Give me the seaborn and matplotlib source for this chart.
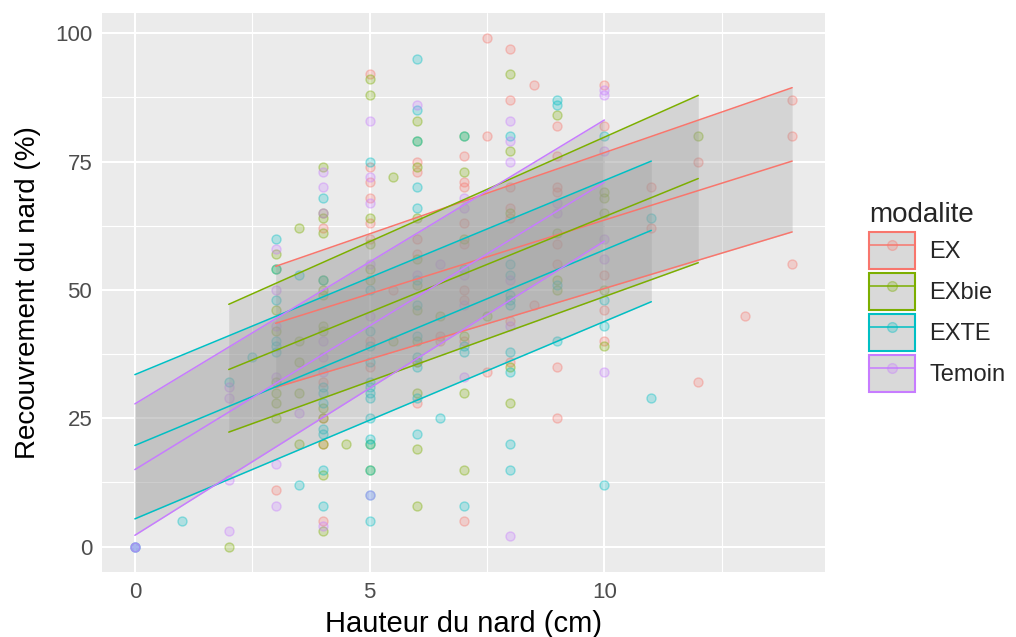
import numpy as np
import pandas as pd
import matplotlib
matplotlib.use("Agg")
import matplotlib.pyplot as plt
import seaborn as sns
from matplotlib.patches import Rectangle
from matplotlib.lines import Line2D
from matplotlib.colors import to_rgba
from matplotlib.ticker import MultipleLocator

# ---------------- data ----------------
groups = ["EX", "EXbie", "EXTE", "Temoin"]
colors = ["#F8766D", "#7CAE00", "#00BFC4", "#C77CFF"]

ex_x = [3, 4, 4, 4, 4, 4, 5, 5, 5, 5, 5, 5, 5, 5, 5.5, 6, 6, 6, 6, 6, 6, 6.5, 6.5,
        7, 7, 7, 7, 7, 7, 7, 7, 7, 7.5, 7.5, 7.5, 8, 8, 8, 8, 8, 8, 8, 8.5, 8.5,
        9, 9, 9, 9, 9, 9, 9, 9, 10, 10, 10, 10, 10, 11, 11, 12, 12, 13, 14, 14, 14]
ex_y = [11, 62, 32, 25, 20, 5, 92, 74, 71, 68, 63, 60, 40, 35, 50, 75, 73, 60, 57, 36, 28, 41, 40,
        76, 71, 70, 63, 59, 50, 48, 40, 5, 99, 80, 34, 97, 87, 70, 66, 64, 44, 36, 90, 47,
        82, 76, 70, 69, 59, 55, 35, 25, 90, 82, 53, 46, 40, 70, 62, 75, 32, 45, 87, 80, 55]

exbie_x = [2, 3, 3, 3, 3, 3, 3, 3, 3, 3.5, 3.5, 3.5, 3.5, 3.5,
           4, 4, 4, 4, 4, 4, 4, 4, 4, 4, 4, 4, 4, 4, 4.5,
           5, 5, 5, 5, 5, 5, 5, 5, 5.5, 5.5,
           6, 6, 6, 6, 6, 6, 6, 6, 6, 6, 6, 6, 6.5,
           7, 7, 7, 7, 7, 7, 7.5, 8, 8, 8, 8, 8, 9, 9, 9, 9,
           10, 10, 10, 10, 10, 12]
exbie_y = [0, 57, 54, 46, 42, 32, 30, 28, 25, 62, 40, 36, 30, 20,
           74, 65, 64, 61, 52, 50, 49, 43, 42, 27, 25, 20, 14, 3, 20,
           91, 88, 64, 59, 54, 52, 20, 15, 72, 40,
           83, 79, 74, 64, 56, 51, 46, 40, 36, 30, 19, 8, 45,
           80, 73, 60, 41, 30, 15, 45, 92, 77, 65, 35, 28, 84, 61, 52, 50,
           69, 68, 65, 50, 39, 80]

exte_x = [0, 0, 1, 2, 2.5, 3, 3, 3, 3, 3, 3, 3.5, 3.5,
          4, 4, 4, 4, 4, 4, 4, 4, 4,
          5, 5, 5, 5, 5, 5, 5, 5, 5, 5, 5, 5, 5, 5, 5,
          6, 6, 6, 6, 6, 6, 6, 6, 6, 6, 6, 6, 6.5,
          7, 7, 7, 7, 7, 8, 8, 8, 8, 8, 8, 8, 8, 8, 8,
          9, 9, 9, 9, 10, 10, 10, 10, 11, 11]
exte_y = [0, 0, 5, 32, 37, 60, 54, 48, 40, 39, 38, 53, 12,
          68, 52, 31, 30, 28, 23, 22, 15, 8,
          75, 50, 42, 39, 36, 32, 31, 30, 29, 25, 21, 20, 15, 10, 5,
          95, 85, 79, 70, 66, 52, 47, 41, 37, 35, 29, 22, 25,
          80, 54, 39, 38, 8, 80, 55, 53, 49, 48, 47, 38, 34, 20, 15,
          87, 86, 51, 40, 80, 48, 43, 12, 64, 29]

temoin_x = [0, 0, 2, 2, 2, 2, 3, 3, 3, 3, 3, 3, 3.5,
            4, 4, 4, 4, 4, 4, 4, 5, 5, 5, 5, 5, 5, 6, 6, 6.5,
            7, 7, 7, 7, 7, 8, 8, 8, 8, 8, 8, 9, 9,
            10, 10, 10, 10, 10, 10]
temoin_y = [0, 0, 31, 29, 13, 3, 58, 50, 43, 33, 16, 8, 26,
            73, 70, 65, 40, 37, 34, 4, 83, 72, 67, 55, 45, 10, 86, 53, 55,
            68, 66, 53, 47, 33, 83, 79, 75, 52, 43, 2, 67, 65,
            89, 88, 77, 60, 56, 34]

# regression lines: start/end x, fit, lower and upper bounds
fit_x0 = [3, 2, 0, 0]
fit_x1 = [14, 12, 11, 10]
fit_y0 = [43.5, 34.5, 19.7, 15.0]
fit_y1 = [75.1, 71.7, 61.6, 71.0]
lwr_y0 = [31.0, 22.3, 5.4, 2.2]
lwr_y1 = [61.3, 55.3, 47.7, 59.5]
upr_y0 = [54.6, 47.2, 33.5, 27.8]
upr_y1 = [89.4, 87.9, 75.1, 83.1]

xticks = [0, 5, 10]
yticks = [0, 25, 50, 75, 100]
xlabel = "Hauteur du nard (cm)"
ylabel = "Recouvrement du nard (%)"
legend_title = "modalite"

# ---------------- build frame ----------------
pts = pd.concat([
    pd.DataFrame({"x": ex_x, "y": ex_y, "modalite": "EX"}),
    pd.DataFrame({"x": exbie_x, "y": exbie_y, "modalite": "EXbie"}),
    pd.DataFrame({"x": exte_x, "y": exte_y, "modalite": "EXTE"}),
    pd.DataFrame({"x": temoin_x, "y": temoin_y, "modalite": "Temoin"}),
], ignore_index=True)

sns.set_theme(style="darkgrid")
plt.rcParams["font.family"] = ["Liberation Sans", "DejaVu Sans"]

fig = plt.figure(figsize=(10.16, 6.37), dpi=100)
ax = fig.add_axes([102 / 1016, 1 - 572 / 637, (825 - 102) / 1016, (572 - 13) / 637])
ax.set_facecolor("#EBEBEB")

# grid
ax.xaxis.set_minor_locator(MultipleLocator(2.5))
ax.yaxis.set_minor_locator(MultipleLocator(12.5))
ax.grid(which="major", color="white", linewidth=1.5)
ax.grid(which="minor", color="white", linewidth=0.8)
ax.set_axisbelow(True)

# points
for g, c in zip(groups, colors):
    d = pts[pts["modalite"] == g]
    ax.scatter(d["x"], d["y"], s=42, facecolor=to_rgba(c, 0.25),
               edgecolor=to_rgba(c, 0.38), linewidth=1.0, zorder=2)

# smooth bands + lines
for i, (g, c) in enumerate(zip(groups, colors)):
    xs = [fit_x0[i], fit_x1[i]]
    ax.fill_between(xs, [lwr_y0[i], lwr_y1[i]], [upr_y0[i], upr_y1[i]],
                    color="#999999", alpha=0.28, linewidth=0, zorder=3)
    for a, b in [(fit_y0[i], fit_y1[i]), (lwr_y0[i], lwr_y1[i]), (upr_y0[i], upr_y1[i])]:
        sns.lineplot(x=xs, y=[a, b], color=c, linewidth=1.1, ax=ax, zorder=4,
                     legend=False)

ax.set_xlim(-0.7, 14.7)
ax.set_ylim(-4.95, 103.95)
ax.set_xticks(xticks)
ax.set_yticks(yticks)
ax.set_xticklabels([str(t) for t in xticks])
ax.set_yticklabels([str(t) for t in yticks])
ax.tick_params(which="major", length=4, width=1.2, color="#333333",
               labelsize=16, labelcolor="#4D4D4D", pad=3)
ax.tick_params(which="minor", length=0)
for sp in ax.spines.values():
    sp.set_visible(False)

ax.set_xlabel(xlabel, fontsize=21, color="black", labelpad=5)
ax.set_ylabel(ylabel, fontsize=20, color="black", labelpad=10)

# legend
handles = []
for c in colors:
    box = Rectangle((0, 0), 1, 1, facecolor="#D9D9D9", edgecolor=c, linewidth=1.5)
    ln = Line2D([], [], color=c, linewidth=1.1, marker="o", markersize=7,
                markerfacecolor=to_rgba(c, 0.25), markeredgecolor=to_rgba(c, 0.38))
    handles.append((box, ln))
leg = fig.legend(handles, groups, title=legend_title, loc="upper left",
                 bbox_to_anchor=(860 / 1016, 1 - 193 / 637), frameon=False,
                 fontsize=17, title_fontsize=20, handlelength=1.95,
                 handleheight=2.03, labelspacing=0.17, handletextpad=0.59,
                 alignment="left", borderaxespad=0)

fig.savefig("out.png", dpi=100)
